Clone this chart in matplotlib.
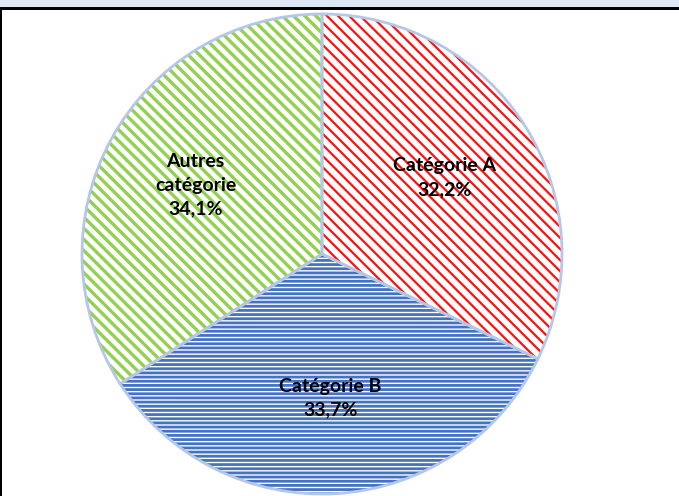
import matplotlib
matplotlib.use("Agg")
import matplotlib.pyplot as plt
from matplotlib.patches import Rectangle, Wedge

categories = ["Catégorie A", "Catégorie B", "Autres\ncatégorie"]
values = [32.2, 33.7, 34.1]
hatch_colors = ["#FF1010", "#4472C4", "#92D050"]
hatches = ["\\\\\\", "----", "\\\\\\"]
hatch_widths = [1.6, 2.0, 2.4]

plt.rcParams["hatch.linewidth"] = 1.8

W, H = 679, 496
fig = plt.figure(figsize=(W / 100, H / 100), dpi=100)
ax = fig.add_axes([0, 0, 1, 1])

center = (322, H - 254)
radius = 240

_idx = iter(range(len(values)))
def fmt(pct):
    i = next(_idx)
    return f"{categories[i]}\n{values[i]:.1f}%".replace(".", ",")

wedges, texts, autotexts = ax.pie(
    values, center=center, radius=radius, startangle=90, counterclock=False,
    autopct=fmt, pctdistance=0.6, frame=True,
    wedgeprops=dict(facecolor="white", linewidth=0),
    textprops=dict(fontsize=14, fontweight="bold", family=["Lato", "DejaVu Sans"],
                   color="black", linespacing=1.45),
)
ax.set_xlim(0, W)
ax.set_ylim(0, H)
ax.set_aspect("equal")
ax.axis("off")

# frame bits at top / left
ax.add_patch(Rectangle((0, H - 7), W, 7, facecolor="#DDE8F5", edgecolor="none", zorder=0))
ax.add_patch(Rectangle((0, H - 10), W, 3, facecolor="black", edgecolor="none", zorder=5))
ax.add_patch(Rectangle((0, 0), 2, H - 10, facecolor="black", edgecolor="none", zorder=5))

for w, hc, hp, hw in zip(wedges, hatch_colors, hatches, hatch_widths):
    w.set_edgecolor(hc)
    w.set_hatch(hp)
    if hasattr(w, "set_hatch_linewidth"):
        w.set_hatch_linewidth(hw)
    else:
        w._hatch_linewidth = hw
    w.set_linewidth(0)
    ov = Wedge(w.center, w.r, w.theta1, w.theta2, facecolor="none",
               edgecolor="#B4C7E7", linewidth=2.0, zorder=w.get_zorder() + 0.5)
    ax.add_patch(ov)

for t in autotexts:
    t.set_zorder(10)
    t.set_ha("center")
    t.set_va("center")

fig.savefig("out.png", dpi=100)
